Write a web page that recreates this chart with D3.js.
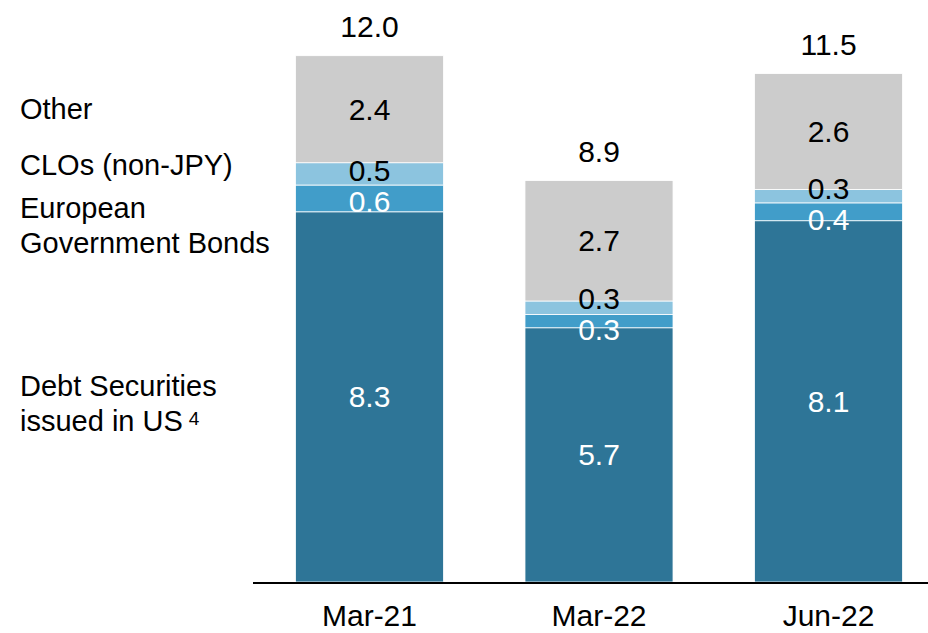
<!DOCTYPE html>
<html>
<head>
<meta charset="utf-8">
<script src="https://cdn.jsdelivr.net/npm/d3@7"></script>
<style>
  body { margin: 0; background: #fff; }
  svg { display: block; font-family: "Liberation Sans", Arial, sans-serif; }
</style>
</head>
<body>
<svg id="chart" width="928" height="633"></svg>
<script>
// categories and series (trillion yen)
var categories = ["Mar-21", "Mar-22", "Jun-22"];
var seriesNames = ["Debt Securities issued in US", "European Government Bonds", "CLOs (non-JPY)", "Other"];
var debtUS = [8.3, 5.7, 8.1];
var euroGov = [0.6, 0.3, 0.4];
var clos = [0.5, 0.3, 0.3];
var other = [2.4, 2.7, 2.6];
var totals = [12.0, 8.9, 11.5];

var colors = ["#2e7597", "#419dc9", "#8cc4df", "#cccccc"];
var labelColors = ["#fff", "#fff", "#000", "#000"];

const width = 928;
const height = 633;

var rows = categories.map(function(c, i) {
    return { cat: c, s0: debtUS[i], s1: euroGov[i], s2: clos[i], s3: other[i], total: totals[i] };
});
var keys = ["s0", "s1", "s2", "s3"];
var stacked = d3.stack().keys(keys)(rows);

const x = d3.scaleBand(categories, [270, 928]).paddingInner(0.355).paddingOuter(0.111);
const y = d3.scaleLinear([0, 12.6], [582, 20]);

var svg = d3.select("#chart");

// bars
svg.append("g").selectAll("g")
    .data(stacked)
    .join("g")
    .attr("fill", function(d, i) { return colors[i]; })
    .selectAll("rect")
    .data(function(d) { return d; })
    .join("rect")
    .attr("x", function(d) { return x(d.data.cat); })
    .attr("y", function(d) { return y(d[1]); })
    .attr("width", x.bandwidth())
    .attr("height", function(d) { return y(d[0]) - y(d[1]); })
    .attr("stroke", "#fff")
    .attr("stroke-width", 0.8);

// segment labels, spread the two thin middle ones apart
categories.forEach(function(c, ci) {
    var ys = stacked.map(function(s) { return (y(s[ci][0]) + y(s[ci][1])) / 2 + 10.5; });
    var gap = ys[1] - ys[2];
    if (gap < 31) {
        var mid = (ys[1] + ys[2]) / 2;
        ys[1] = mid + 15.5;
        ys[2] = mid - 15.5;
    }
    stacked.forEach(function(s, si) {
        svg.append("text")
            .attr("x", x(c) + x.bandwidth() / 2)
            .attr("y", ys[si])
            .attr("text-anchor", "middle")
            .attr("font-size", 30)
            .attr("fill", labelColors[si])
            .text(d3.format(".1f")(s[ci].data[keys[si]]));
    });
});

// totals
svg.append("g").selectAll("text")
    .data(rows)
    .join("text")
    .attr("x", function(d) { return x(d.cat) + x.bandwidth() / 2; })
    .attr("y", function(d) { return y(d.s0 + d.s1 + d.s2 + d.s3) - 19; })
    .attr("text-anchor", "middle")
    .attr("font-size", 30)
    .attr("fill", "#000")
    .text(function(d) { return d3.format(".1f")(d.total); });

// baseline
svg.append("line")
    .attr("x1", 253).attr("x2", width)
    .attr("y1", y(0) + 1).attr("y2", y(0) + 1)
    .attr("stroke", "#000")
    .attr("stroke-width", 2);

// category labels
svg.append("g").selectAll("text")
    .data(categories)
    .join("text")
    .attr("x", function(d) { return x(d) + x.bandwidth() / 2; })
    .attr("y", 626)
    .attr("text-anchor", "middle")
    .attr("font-size", 30)
    .attr("fill", "#000")
    .text(function(d) { return d; });

// series names on the left
var legendLines = [
    { lines: ["Other"], y: 119 },
    { lines: ["CLOs (non-JPY)"], y: 175 },
    { lines: ["European", "Government Bonds"], y: 218 },
    { lines: ["Debt Securities", "issued in US"], y: 396, note: "4" }
];
var legend = svg.append("g").attr("font-size", 29).attr("fill", "#000");
legendLines.forEach(function(l) {
    var t = legend.append("text").attr("x", 20).attr("y", l.y);
    l.lines.forEach(function(line, i) {
        t.append("tspan").attr("x", 20).attr("dy", i === 0 ? 0 : 35).text(line);
    });
    if (l.note) {
        t.append("tspan").attr("dx", 6).attr("dy", -6).attr("font-size", 19).text(l.note);
    }
});
</script>
</body>
</html>
